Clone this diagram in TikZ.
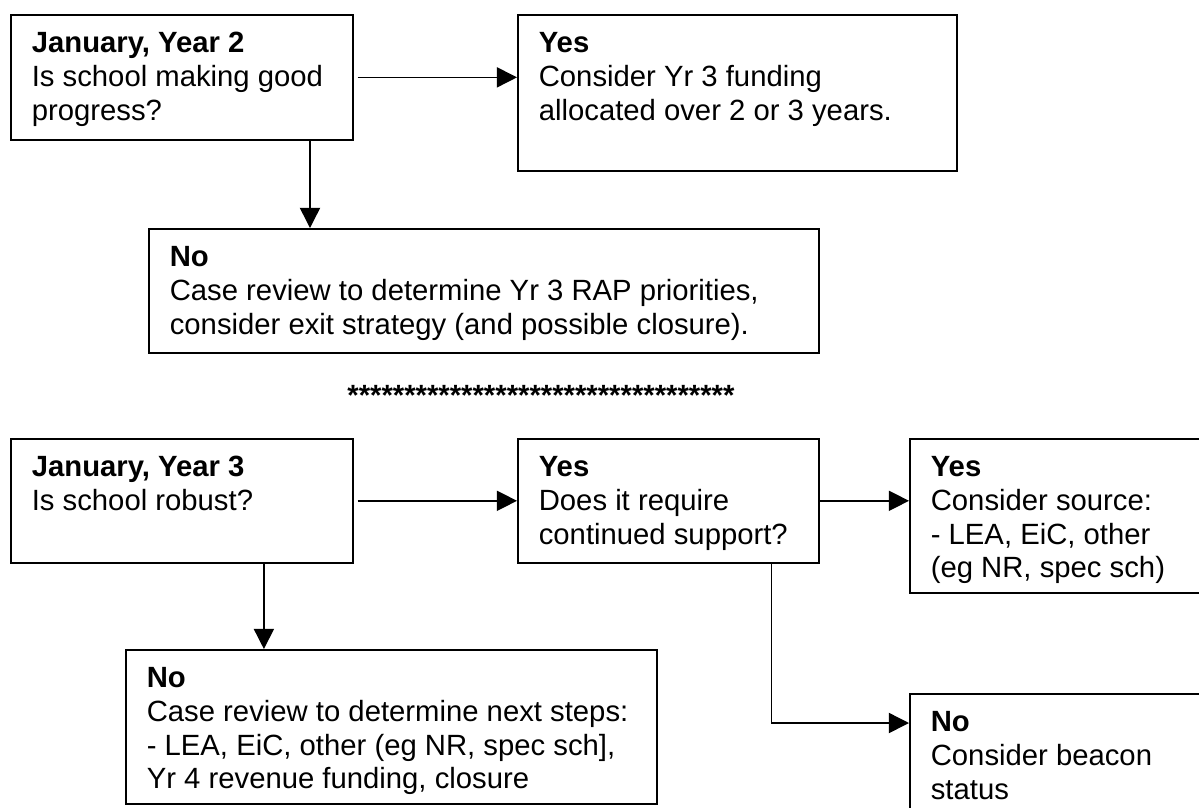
\documentclass[tikz,border=0pt]{standalone}
\usepackage{fontspec}
\setmainfont{Liberation Sans}
\usepackage{tikz}
\usetikzlibrary{arrows.meta,positioning,calc}

\newcommand{\flowtext}[4]{%
\begin{minipage}[t][#2][t]{#1}\leftskip=8.6pt
\rule{0pt}{15.6pt}\textbf{#3}\\#4
\end{minipage}}

\tikzset{
  flowbox/.style={draw,line width=0.7pt,anchor=north west,inner sep=0pt,
    font=\fontsize{12}{13.8}\selectfont},
  flowarrow/.style={line width=0.6pt,-{Triangle[length=8.3pt,width=8.3pt]}}
}

\begin{document}
\begin{tikzpicture}[x=0.41pt,y=-0.41pt]
\useasboundingbox (0,0) rectangle (1199,807);
\clip (0,0) rectangle (1199,807);
% year 2
\node[flowbox] (jan2) at (10,14) {\flowtext{140.2pt}{51.25pt}{January, Year 2}{Is school making good\\progress?}};
\node[flowbox] (yes2) at (517,14) {\flowtext{180pt}{64pt}{Yes}{Consider Yr 3 funding\\allocated over 2 or 3 years.}};
\node[flowbox] (no2) at (148,228) {\flowtext{274.7pt}{50.8pt}{No}{Case review to determine Yr 3 RAP priorities,\\consider exit strategy (and possible closure).}};
\node[font=\fontsize{12}{13.8}\selectfont\bfseries,anchor=base,inner sep=0pt] (stars) at (541,405) {**********************************};
% year 3
\node[flowbox] (jan3) at (10,438) {\flowtext{140.2pt}{50.8pt}{January, Year 3}{Is school robust?}};
\node[flowbox] (yes3) at (517,438) {\flowtext{123.4pt}{50.8pt}{Yes}{Does it require\\continued support?}};
\node[flowbox] (source) at (909,438) {\flowtext{143.5pt}{63.1pt}{Yes}{Consider source:\\- LEA, EiC, other\\(eg NR, spec sch)}};
\node[flowbox] (beacon) at (909,693) {\flowtext{143.5pt}{65.6pt}{No}{Consider beacon\\status}};
\node[flowbox] (no3) at (125,649) {\flowtext{217.7pt}{63.1pt}{No}{Case review to determine next steps:\\- LEA, EiC, other (eg NR, spec sch],\\Yr 4 revenue funding, closure}};
% connectors
\draw[flowarrow,shorten <=1.6pt] (jan2.east) -- (yes2.west |- jan2.east);
\draw[flowarrow] ([xshift=123pt]jan2.south west) coordinate (a2) -- (a2 |- no2.north);
\draw[flowarrow,shorten <=1.6pt] (jan3.east) -- (yes3.west |- jan3.east);
\draw[flowarrow] (yes3.east) -- (source.west |- yes3.east);
\draw[flowarrow] ([xshift=104.1pt]jan3.south west) coordinate (a3) -- (a3 |- no3.north);
\draw[flowarrow] ([xshift=104.3pt]yes3.south west) |- ([yshift=-12.3pt]beacon.north west);
\end{tikzpicture}
\end{document}
